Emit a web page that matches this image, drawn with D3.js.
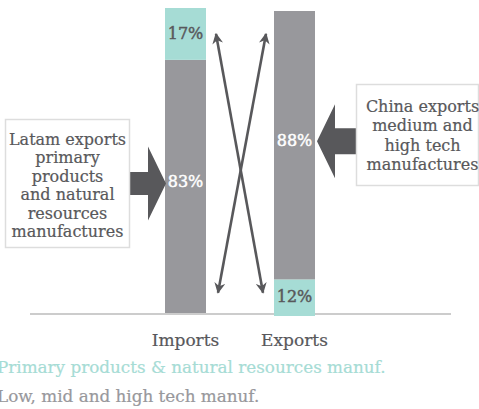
<!DOCTYPE html>
<html>
<head>
<meta charset="utf-8">
<script src="https://cdn.jsdelivr.net/npm/d3@7"></script>
<style>
  html, body { margin: 0; padding: 0; background: #fff; }
  svg { display: block; }
  text { font-family: "DejaVu Serif", serif; }
</style>
</head>
<body>
<svg id="chart" width="479" height="409"></svg>
<script>
// Trade composition, Latin America vs China
const categories = ["Imports", "Exports"];
const primaryShare = [17, 12];   // primary products & natural resources manuf. (%)
const techShare = [83, 88];      // low, mid and high tech manuf. (%)
const seriesNames = ["Primary products & natural resources manuf.", "Low, mid and high tech manuf."];
const leftNote = ["Latam exports", "primary", "products", "and natural", "resources", "manufactures"];
const rightNote = ["China exports", "medium and", "high tech", "manufactures"];

const teal = "#a6dcd5";
const grey = "#98989c";
const dark = "#58585b";

const svg = d3.select("#chart");

const x = d3.scalePoint().domain(categories).range([185.5, 294.5]);
const barW = 41;
const y = d3.scaleLinear().domain([0, 100]).range([313, 8]);
// exports column sits a touch lower than imports
const shift = { Imports: 0, Exports: 3 };

// stacking order: imports has primary on top, exports has primary at the bottom
const rows = categories.map((c, i) => ({ cat: c, primary: primaryShare[i], tech: techShare[i] }));
const segments = [];
rows.forEach(r => {
  if (r.cat === "Imports") {
    segments.push({ cat: r.cat, key: "tech", y0: 0, y1: r.tech, v: r.tech });
    segments.push({ cat: r.cat, key: "primary", y0: r.tech, y1: r.tech + r.primary, v: r.primary });
  } else {
    segments.push({ cat: r.cat, key: "primary", y0: 0, y1: r.primary, v: r.primary });
    segments.push({ cat: r.cat, key: "tech", y0: r.primary, y1: r.primary + r.tech, v: r.tech });
  }
});

// baseline
svg.append("line")
  .attr("x1", 30).attr("x2", 451)
  .attr("y1", y(0) + 1).attr("y2", y(0) + 1)
  .attr("stroke", "#cccccc").attr("stroke-width", 2);

svg.append("g").selectAll("rect")
  .data(segments)
  .join("rect")
  .attr("x", d => x(d.cat) - barW / 2)
  .attr("width", barW)
  .attr("y", d => y(d.y1) + shift[d.cat])
  .attr("height", d => y(d.y0) - y(d.y1))
  .attr("fill", d => d.key === "primary" ? teal : grey);

const labelY = d => (y(d.y0) + y(d.y1)) / 2 + shift[d.cat] + (d.key === "tech" ? -5 : -1);

// share labels, slightly heavier than body text
svg.append("g").selectAll("text")
  .data(segments)
  .join("text")
  .attr("x", d => x(d.cat))
  .attr("y", labelY)
  .attr("dy", "0.36em")
  .attr("text-anchor", "middle")
  .attr("font-size", 16)
  .attr("fill", d => d.key === "primary" ? dark : "#ffffff")
  .attr("stroke", d => d.key === "primary" ? dark : "#ffffff")
  .attr("stroke-width", 0.45)
  .text(d => d.v + "%");

// category axis labels
svg.append("g").selectAll("text")
  .data(categories)
  .join("text")
  .attr("x", d => x(d))
  .attr("y", 346)
  .attr("text-anchor", "middle")
  .attr("font-size", 17)
  .attr("fill", dark)
  .attr("stroke", dark)
  .attr("stroke-width", 0.2)
  .text(d => d);

// crossing double-headed arrows
const defs = svg.append("defs");
defs.append("marker")
  .attr("id", "head")
  .attr("viewBox", "0 0 10 10")
  .attr("refX", 9).attr("refY", 5)
  .attr("markerWidth", 4.2).attr("markerHeight", 4.2)
  .attr("orient", "auto-start-reverse")
  .attr("markerUnits", "strokeWidth")
  .append("path")
  .attr("d", "M0,0 L10,5 L0,10 L3,5 Z")
  .attr("fill", dark);

const seg = k => segments.find(s => s.cat === categories[k] && s.key === "primary");
const topY = labelY(seg(0)) + 1;
const botY = labelY(seg(1)) - 4;
const innerL = x("Imports") + barW / 2 + 10;
const innerR = x("Exports") - barW / 2 - 11;
[[innerL, topY, innerR, botY], [innerR + 3, topY, innerL + 2, botY]].forEach(([x1, y1, x2, y2]) => {
  svg.append("line")
    .attr("x1", x1).attr("y1", y1).attr("x2", x2).attr("y2", y2)
    .attr("stroke", dark).attr("stroke-width", 2.6)
    .attr("marker-start", "url(#head)")
    .attr("marker-end", "url(#head)");
});

// block arrows pointing at the tech shares
const techImp = segments.find(s => s.cat === "Imports" && s.key === "tech");
const techExp = segments.find(s => s.cat === "Exports" && s.key === "tech");
const lTipX = x("Imports") - barW / 2 + 1, lY = labelY(techImp) + 2;
svg.append("path")
  .attr("d", `M${lTipX - 37},${lY - 11.5} L${lTipX - 18},${lY - 11.5} L${lTipX - 18},${lY - 37} L${lTipX},${lY} L${lTipX - 18},${lY + 37} L${lTipX - 18},${lY + 11.5} L${lTipX - 37},${lY + 11.5} Z`)
  .attr("fill", dark);
const rTipX = x("Exports") + barW / 2 + 2, rY = labelY(techExp) + 1;
svg.append("path")
  .attr("d", `M${rTipX + 41},${rY - 13} L${rTipX + 18},${rY - 13} L${rTipX + 18},${rY - 37} L${rTipX},${rY} L${rTipX + 18},${rY + 37} L${rTipX + 18},${rY + 13} L${rTipX + 41},${rY + 13} Z`)
  .attr("fill", dark);

// note boxes
function noteBox(lines, bx, by, bw, bh, cx, firstBase, lh) {
  svg.append("rect")
    .attr("x", bx).attr("y", by).attr("width", bw).attr("height", bh)
    .attr("fill", "#fff").attr("stroke", "#dddddd").attr("stroke-width", 1.5);
  svg.append("g").selectAll("text")
    .data(lines)
    .join("text")
    .attr("x", cx)
    .attr("y", (d, i) => firstBase + i * lh)
    .attr("text-anchor", "middle")
    .attr("font-size", 16)
    .attr("fill", dark)
    .attr("stroke", dark)
    .attr("stroke-width", 0.2)
    .text(d => d);
}
noteBox(leftNote, 5.5, 119.5, 124, 128, 67.5, 145, 18.4);
noteBox(rightNote, 356.5, 84.5, 122, 101, 422.5, 112, 19.3);

// legend
svg.append("g").selectAll("text")
  .data(seriesNames)
  .join("text")
  .attr("x", -3)
  .attr("y", (d, i) => 373 + i * 29)
  .attr("font-size", 16.8)
  .attr("fill", (d, i) => i === 0 ? teal : grey)
  .attr("stroke", (d, i) => i === 0 ? teal : grey)
  .attr("stroke-width", 0.2)
  .text(d => d);
</script>
</body>
</html>
